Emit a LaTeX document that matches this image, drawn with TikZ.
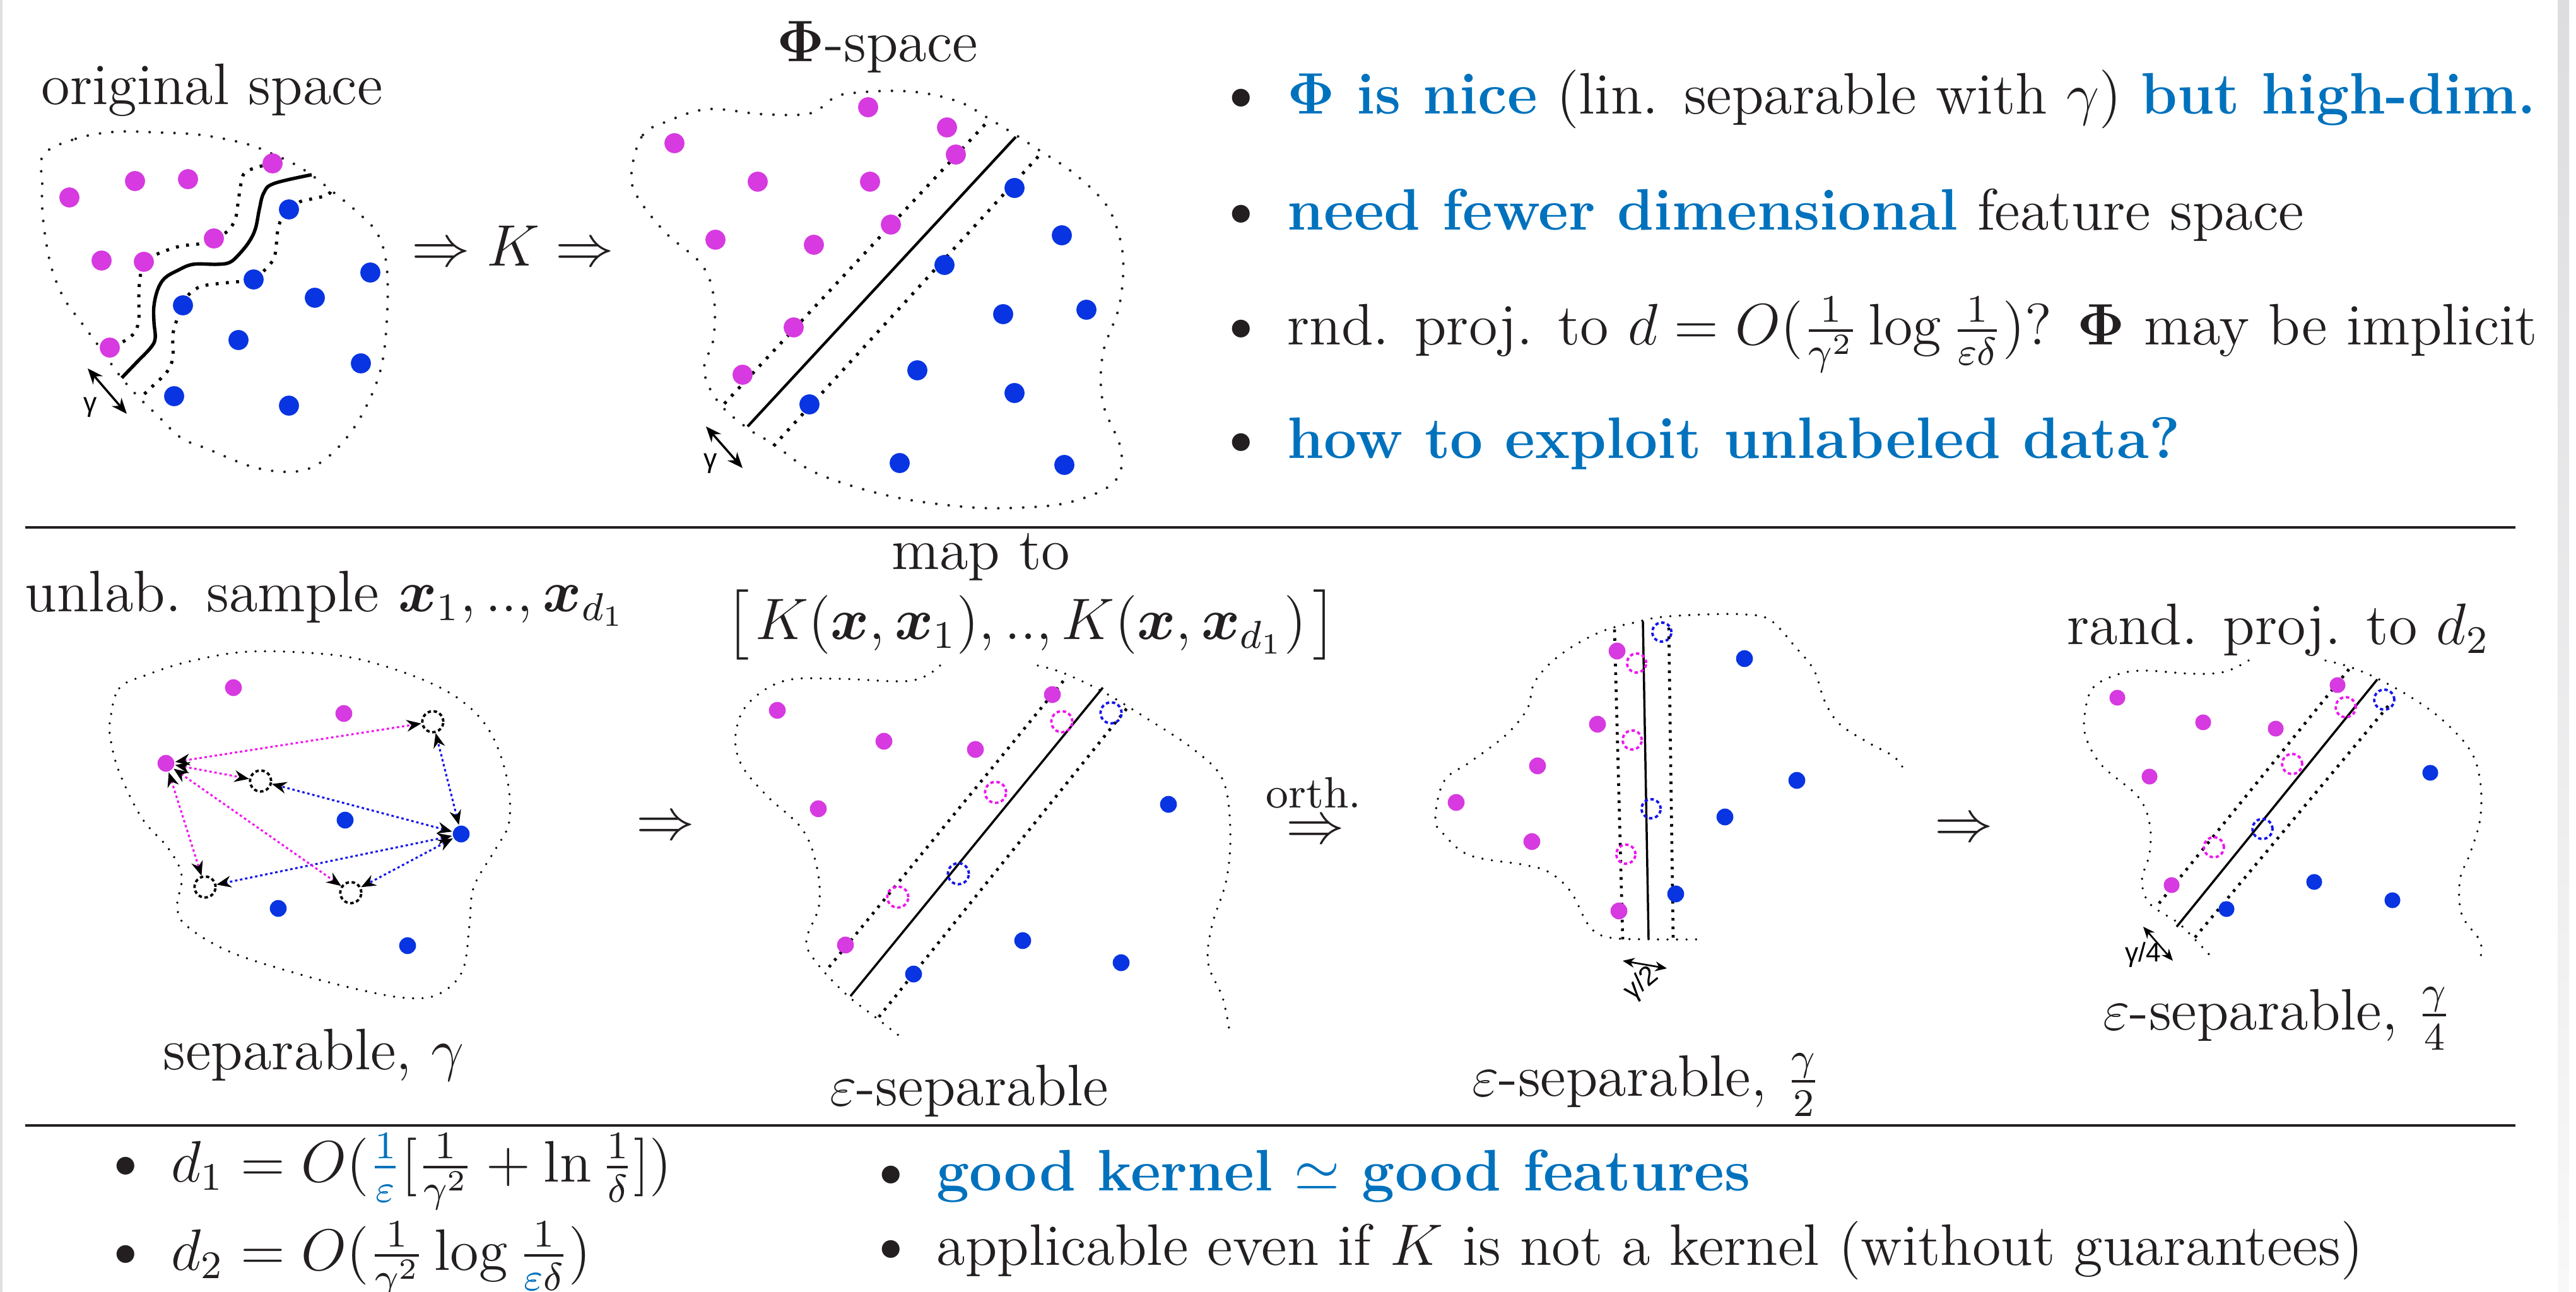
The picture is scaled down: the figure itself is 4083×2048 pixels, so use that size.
\documentclass[tikz,border=0pt]{standalone}
\usepackage{amsmath}
\usepackage[no-math]{fontspec}
\newfontfamily\lsans{Liberation Sans}
\usetikzlibrary{arrows.meta}
\definecolor{ink}{RGB}{35,31,32}
\definecolor{tblue}{RGB}{0,114,189}
\definecolor{pinkdot}{RGB}{214,58,224}
\definecolor{bluedot}{RGB}{8,52,226}
\definecolor{magc}{RGB}{240,20,240}
\definecolor{bluec}{RGB}{20,20,235}
\newcommand\bkl{\mathopen{\left[\vcenter to 15pt{}\right.}}
\newcommand\bkr{\mathclose{\left.\vcenter to 15pt{}\right]}}
\begin{document}
\begin{tikzpicture}[x=0.1293pt,y=-0.1293pt,
  txt/.style={font=\fontsize{12}{14}\selectfont, text=ink, inner sep=0pt, anchor=base},
  btxt/.style={font=\fontsize{13.5}{14}\selectfont, text=ink, inner sep=0pt, anchor=base},
  otxt/.style={font=\fontsize{9}{11}\selectfont, text=ink, inner sep=0pt, anchor=base},
  lbl/.style={font=\lsans\fontsize{5.5}{6}\selectfont, text=black, inner sep=0pt},
  pdot/.style={circle, fill=pinkdot, inner sep=0pt, minimum size=4.1pt},
  bdot/.style={circle, fill=bluedot, inner sep=0pt, minimum size=4.1pt},
  spdot/.style={pdot, minimum size=3.45pt},
  sbdot/.style={bdot, minimum size=3.45pt},
  ring/.style={circle, inner sep=0pt, minimum size=4.3pt, line width=0.5pt, dash pattern=on 0.7pt off 0.55pt},
  pring/.style={ring, draw=magc},
  bring/.style={ring, draw=bluec},
  kring/.style={ring, draw=black},
  outlA/.style={draw=ink, line width=0.55pt, line cap=round, dash pattern=on 0pt off 2.55pt},
  outlB/.style={draw=black, line width=0.5pt, line cap=round, dash pattern=on 0pt off 1.95pt},
  margA/.style={draw=black, line width=0.65pt, dash pattern=on 0.6pt off 1.5pt},
  margB/.style={draw=black, line width=0.6pt, dash pattern=on 0.55pt off 1.2pt},
  sepW/.style={draw=black, line width=0.7pt},
  sepA/.style={draw=black, line width=0.55pt},
  sepB/.style={draw=black, line width=0.45pt},
  garrow/.style={draw=black, line width=0.45pt, {Stealth[length=3.2pt,width=2.6pt]}-{Stealth[length=3.2pt,width=2.6pt]}},
  sgarrow/.style={draw=black, line width=0.35pt, {Stealth[length=2.4pt,width=2pt]}-{Stealth[length=2.4pt,width=2pt]}},
  karrow/.style={line width=0.4pt, dash pattern=on 0.5pt off 0.55pt, {Stealth[color=black,length=3pt,width=2.4pt]}-{Stealth[color=black,length=3pt,width=2.4pt]}},
  rule/.style={draw=ink, line width=0.45pt}
]
\fill[white] (0,0) rectangle (4083,2048);
\useasboundingbox (0,0) rectangle (4083,2048);
\fill[black!12] (0,0) rectangle (4,2048);
\shade[top color={rgb,255:red,221;green,221;blue,224}, bottom color={rgb,255:red,248;green,248;blue,248}] (4054,0) rectangle (4072,2048);

% rules
\draw[rule] (40,836) -- (3987,836);
\draw[rule] (40,1784) -- (3987,1784);

% ---------- panel 1: original space
\draw[outlA] plot[smooth cycle, tension=0.6] coordinates {(69,245) (120,220) (182,209) (250,210) (319,214) (390,228) (434,245) (470,262) (500,282) (525,302) (565,335) (598,370) (613,423) (613,510) (603,587) (575,655) (540,705) (500,738) (459,748) (400,740) (330,712) (287,694) (249,658) (220,630) (191,597) (156,548) (128,510) (102,474) (83,429) (73,383) (67,332) (67,290)};
\draw[margA] plot[smooth, tension=0.6] coordinates {(432,259) (408,265) (389,273) (383,286) (378,316) (373,347) (360,367) (339,378) (319,386) (287,390) (261,398) (240,407) (228,415) (222,440) (220,470) (220,505) (214,526) (198,540) (174,551)};
\draw[margA] plot[smooth, tension=0.6] coordinates {(524,304) (517,310) (491,316) (475,320) (458,332) (446,347) (440,367) (436,403) (427,420) (402,443) (383,446) (351,449) (319,454) (300,466) (290,484) (281,505) (274,531) (274,566) (265,589) (242,612) (223,630)};
\draw[sepW] plot[smooth, tension=0.6] coordinates {(494,277) (434,291) (418,306) (411,332) (405,362) (395,383) (379,403) (364,416) (344,419) (306,419) (281,429) (261,441) (250,459) (244,485) (244,510) (246,536) (239,551) (217,574) (193,599)};
\foreach \c [count=\i] in {(110,313),(214,287),(298,284),(432,259),(339,378),(161,413),(228,415),(174,551)}
  \node[pdot] (ap\i) at \c {};
\foreach \c [count=\i] in {(458,332),(402,443),(290,484),(499,472),(587,432),(378,539),(572,576),(276,628),(458,643)}
  \node[bdot] (ab\i) at \c {};
\coordinate (g1a) at (139,584);
\coordinate (g1b) at (201,656);
\draw[garrow] (g1a) -- (g1b);
\node[lbl] (g1l) at (143,646) {γ};
\node[txt] (torig) at (336,166) {original space};
\node[txt] (tK) at (813,422) {$\Rightarrow K \Rightarrow$};

% ---------- panel 2: Phi-space
\node[txt] (tphi) at (1391,98) {$\mathbf{\Phi}$-space};
\draw[outlA] plot[smooth cycle, tension=0.6] coordinates {(1002,265) (1019,214) (1056,193) (1122,173) (1208,181) (1283,180) (1317,158) (1340,149) (1409,144) (1467,148) (1524,163) (1564,186) (1610,214) (1650,240) (1696,270) (1742,311) (1765,347) (1780,408) (1774,485) (1748,561) (1748,638) (1777,714) (1765,765) (1696,796) (1610,805) (1524,803) (1409,786) (1294,750) (1226,704) (1185,679) (1139,638) (1116,587) (1131,536) (1131,469) (1111,418) (1053,367) (1007,306)};
\coordinate (s2a) at (1185,676);
\coordinate (s2b) at (1610,217);
\coordinate (u2a) at (1148,640);
\coordinate (u2b) at (1567,191);
\coordinate (l2a) at (1226,707);
\coordinate (l2b) at (1653,240);
\draw[margA] (u2a) -- (u2b);
\draw[margA] (l2a) -- (l2b);
\draw[sepA] (s2a) -- (s2b);
\foreach \c [count=\i] in {(1376,170),(1501,202),(1515,245),(1069,227),(1201,288),(1379,288),(1412,356),(1134,380),(1290,388),(1258,519),(1177,594)}
  \node[pdot] (bp\i) at \c {};
\foreach \c [count=\i] in {(1608,298),(1683,373),(1497,420),(1590,498),(1722,491),(1454,587),(1608,623),(1283,641),(1426,734),(1687,737)}
  \node[bdot] (bb\i) at \c {};
\coordinate (g2a) at (1119,676);
\coordinate (g2b) at (1177,742);
\draw[garrow] (g2a) -- (g2b);
\node[lbl] (g2l) at (1126,735) {γ};

% ---------- top right bullets
\node[btxt] (b1) at (1967,181) {\textbullet};
\node[txt, anchor=base west] (i1) at (2039,181) {\textcolor{tblue}{\textbf{$\mathbf{\Phi}$ is nice}} (lin. separable with $\gamma$) \textcolor{tblue}{\textbf{but high-dim.}}};
\node[btxt] (b2) at (1967,365) {\textbullet};
\node[txt, anchor=base west] (i2) at (2039,365) {\textcolor{tblue}{\textbf{need fewer dimensional}} feature space};
\node[btxt] (b3) at (1967,547) {\textbullet};
\node[txt, anchor=base west] (i3) at (2039,547) {rnd. proj. to $d=O(\frac{1}{\gamma^2}\log\frac{1}{\varepsilon\delta})$? $\mathbf{\Phi}$ may be implicit};
\node[btxt] (b4) at (1967,727) {\textbullet};
\node[txt, anchor=base west] (i4) at (2039,727) {\textcolor{tblue}{\textbf{how to exploit unlabeled data?}}};

% ---------- panel 3
\node[txt] (tunl) at (516,970) {unlab. sample $\boldsymbol{x}_1, .., \boldsymbol{x}_{d_1}$};
\draw[outlB] plot[smooth cycle, tension=0.6] coordinates {(175,1139) (189,1091) (232,1070) (302,1048) (393,1033) (505,1036) (582,1048) (674,1079) (737,1115) (779,1164) (804,1236) (807,1303) (786,1345) (751,1406) (744,1467) (733,1539) (695,1576) (646,1582) (575,1570) (477,1545) (365,1509) (295,1467) (281,1436) (288,1388) (267,1345) (225,1297) (189,1224) (175,1170)};
\node[spdot] (cp1) at (370,1090) {};
\node[spdot] (cp2) at (545,1131) {};
\node[spdot] (P) at (263,1210) {};
\node[sbdot] (cb1) at (547,1300) {};
\node[sbdot] (B) at (731,1322) {};
\node[sbdot] (cb2) at (441,1440) {};
\node[sbdot] (cb3) at (646,1499) {};
\node[kring] (c1) at (686,1144) {};
\node[kring] (c2) at (413,1238) {};
\node[kring] (c3) at (325,1406) {};
\node[kring] (c4) at (556,1415) {};
\foreach \k in {c1,c2,c3,c4} {
  \draw[karrow, draw=magc] (P) -- (\k);
  \draw[karrow, draw=bluec] (B) -- (\k);
}
\node[txt] (tsep) at (497,1695) {separable, $\gamma$};
\node[txt] (ar1) at (1055,1330) {$\Rightarrow$};

% ---------- panel 4
\node[txt] (tmap) at (1555,903) {map to};
\node[txt] (tK2) at (1634,1014) {$\bkl K(\boldsymbol{x},\boldsymbol{x}_1), .., K(\boldsymbol{x},\boldsymbol{x}_{d_1})\bkr$};
\draw[outlB] plot[smooth, tension=0.6] coordinates {(1490,1055) (1444,1079) (1330,1076) (1244,1079) (1186,1115) (1166,1164) (1175,1212) (1215,1261) (1272,1315) (1295,1376) (1298,1436) (1278,1491) (1295,1527) (1341,1576) (1387,1612) (1433,1648)};
\draw[outlB] plot[smooth, tension=0.6] coordinates {(1645,1055) (1686,1067) (1749,1097) (1818,1139) (1892,1188) (1938,1236) (1950,1315) (1944,1394) (1921,1467) (1915,1527) (1938,1582) (1950,1642)};
\coordinate (s4a) at (1348,1579);
\coordinate (s4b) at (1748,1090);
\coordinate (u4a) at (1314,1533);
\coordinate (u4b) at (1689,1075);
\coordinate (l4a) at (1393,1612);
\coordinate (l4b) at (1790,1118);
\draw[margB] (u4a) -- (u4b);
\draw[margB] (l4a) -- (l4b);
\draw[sepB] (s4a) -- (s4b);
\foreach \c [count=\i] in {(1232,1126),(1401,1175),(1546,1188),(1297,1282),(1668,1101),(1340,1498)}
  \node[spdot] (dp\i) at \c {};
\foreach \c [count=\i] in {(1852,1275),(1621,1491),(1777,1526),(1448,1544)}
  \node[sbdot] (db\i) at \c {};
\foreach \c [count=\i] in {(1683,1144),(1578,1256),(1423,1422)}
  \node[pring] (dpr\i) at \c {};
\foreach \c [count=\i] in {(1761,1130),(1519,1385)}
  \node[bring] (dbr\i) at \c {};
\node[txt] (teps) at (1536,1752) {$\varepsilon$-separable};
\node[otxt] (torth) at (2082,1280) {orth.};
\node[txt] (ar2) at (2085,1336) {$\Rightarrow$};

% ---------- panel 5
\draw[outlB] plot[smooth, tension=0.6] coordinates {(3015,1215) (3000,1198) (2961,1177) (2915,1147) (2892,1111) (2875,1062) (2846,1026) (2806,983) (2766,974) (2703,974) (2634,978) (2594,986) (2536,1002) (2473,1038) (2433,1080) (2421,1123) (2387,1165) (2330,1208) (2289,1238) (2275,1298) (2289,1323) (2330,1356) (2416,1371) (2456,1383) (2490,1414) (2519,1468) (2550,1486) (2620,1489) (2703,1489)};
\coordinate (s5a) at (2604,985);
\coordinate (s5b) at (2613,1489);
\coordinate (u5a) at (2559,998);
\coordinate (u5b) at (2572,1489);
\coordinate (l5a) at (2645,995);
\coordinate (l5b) at (2652,1489);
\draw[margB] (u5a) -- (u5b);
\draw[margB] (l5a) -- (l5b);
\draw[sepB] (s5a) -- (s5b);
\foreach \c [count=\i] in {(2563,1032),(2532,1148),(2437,1214),(2308,1272),(2428,1334),(2566,1444)}
  \node[spdot] (ep\i) at \c {};
\foreach \c [count=\i] in {(2765,1044),(2848,1237),(2734,1295),(2656,1417)}
  \node[sbdot] (eb\i) at \c {};
\foreach \c [count=\i] in {(2594,1051),(2587,1173),(2577,1354)}
  \node[pring, minimum size=3.9pt] (epr\i) at \c {};
\foreach \c [count=\i] in {(2634,1002),(2617,1282)}
  \node[bring, minimum size=3.9pt] (ebr\i) at \c {};
\coordinate (g5a) at (2572,1523);
\coordinate (g5b) at (2642,1535);
\draw[sgarrow] (g5a) -- (g5b);
\node[lbl, rotate=40] (g5l) at (2602,1560) {γ/2};
\node[txt] (teps2) at (2610,1737) {$\varepsilon$-separable, $\frac{\gamma}{2}$};
\node[txt] (ar3) at (3113,1334) {$\Rightarrow$};

% ---------- panel 6
\node[txt] (trand) at (3611,1022) {rand. proj. to $d_2$};
\draw[outlB] plot[smooth, tension=0.6] coordinates {(3564,1047) (3526,1065) (3476,1068) (3395,1063) (3351,1071) (3316,1092) (3304,1135) (3307,1171) (3332,1214) (3388,1262) (3407,1305) (3407,1353) (3395,1395) (3407,1432) (3451,1462) (3476,1486) (3508,1520)};
\draw[outlB] plot[smooth, tension=0.6] coordinates {(3686,1047) (3721,1056) (3765,1074) (3821,1105) (3871,1141) (3915,1189) (3931,1238) (3931,1298) (3915,1353) (3899,1395) (3902,1450) (3931,1492) (3931,1520)};
\coordinate (s6a) at (3450,1469);
\coordinate (s6b) at (3768,1077);
\coordinate (u6a) at (3422,1432);
\coordinate (u6b) at (3727,1056);
\coordinate (l6a) at (3479,1486);
\coordinate (l6b) at (3787,1117);
\draw[margB] (u6a) -- (u6b);
\draw[margB] (l6a) -- (l6b);
\draw[sepB] (s6a) -- (s6b);
\foreach \c [count=\i] in {(3356,1106),(3492,1145),(3607,1155),(3407,1231),(3705,1086),(3442,1403)}
  \node[spdot, minimum size=3.25pt] (fp\i) at \c {};
\foreach \c [count=\i] in {(3852,1225),(3668,1398),(3792,1427),(3529,1441)}
  \node[sbdot, minimum size=3.25pt] (fb\i) at \c {};
\foreach \c [count=\i] in {(3718,1121),(3633,1211),(3509,1343)}
  \node[pring, minimum size=4.1pt] (fpr\i) at \c {};
\foreach \c [count=\i] in {(3779,1109),(3586,1314)}
  \node[bring, minimum size=4.1pt] (fbr\i) at \c {};
\coordinate (g6a) at (3397,1469);
\coordinate (g6b) at (3444,1523);
\draw[sgarrow] (g6a) -- (g6b);
\node[lbl] (g6l) at (3397,1513) {γ/4};
\node[txt] (teps4) at (3610,1632) {$\varepsilon$-separable, $\frac{\gamma}{4}$};

% ---------- bottom bullets
\node[btxt] (b5) at (199,1873) {\textbullet};
\node[txt, anchor=base west] (i5) at (270,1873) {$d_1=O({\color{tblue}\frac{1}{\varepsilon}}[\frac{1}{\gamma^2}+\ln\frac{1}{\delta}])$};
\node[btxt] (b6) at (199,2013) {\textbullet};
\node[txt, anchor=base west] (i6) at (270,2013) {$d_2=O(\frac{1}{\gamma^2}\log\frac{1}{{\color{tblue}\varepsilon}\delta})$};
\node[btxt] (b7) at (1412,1887) {\textbullet};
\node[txt, anchor=base west] (i7) at (1483,1887) {\textcolor{tblue}{\textbf{good kernel $\simeq$ good features}}};
\node[btxt] (b8) at (1412,2005) {\textbullet};
\node[txt, anchor=base west] (i8) at (1483,2005) {applicable even if $K$ is not a kernel (without guarantees)};
\end{tikzpicture}
\end{document}
